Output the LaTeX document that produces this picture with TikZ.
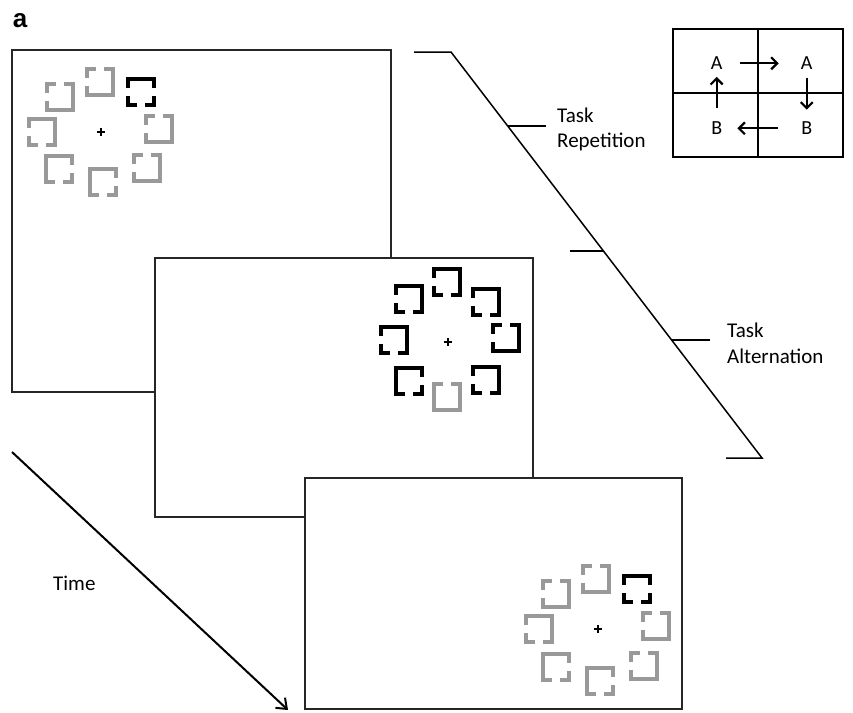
\documentclass[tikz,border=0pt]{standalone}
\usepackage{fontspec}
\setmainfont{Carlito}
\newfontfamily\panelfont{Liberation Sans}
\usetikzlibrary{arrows.meta,calc}

\definecolor{stimgray}{gray}{0.6}
\definecolor{edgegray}{gray}{0.15}

\tikzset{
  panelline/.style={draw=edgegray, line width=1.4},
  stimblack/.style={color=black, line width=3.4},
  stimgrey/.style={color=stimgray, line width=3.4},
  fixcross/.style={draw=black, line width=1.6},
  cue/.style={font=\fontsize{21}{25}\selectfont, anchor=base west, inner sep=0},
  cell/.style={font=\fontsize{20}{24}\selectfont, inner sep=0},
  gridline/.style={draw=black, line width=2},
  gridarrow/.style={draw=black, line width=2.2, -{Straight Barb[length=6,width=12,line width=2.2]}},
  bracket/.style={draw=black, line width=1.5},
}

% one side of a stimulus square, optionally broken in the middle
\newcommand\gapside[3]{%
  \ifnum#3=1
    \draw (#1) -- ($(#1)!0.28!(#2)$) ($(#1)!0.72!(#2)$) -- (#2);
  \else
    \draw (#1) -- (#2);
  \fi}
% square stimulus: centre x, centre y, style, gaps on top/right/bottom/left
\newcommand\stimsq[7]{%
  \begin{scope}[shift={(#1,#2)}, #3, line cap=rect]
    \gapside{-13,-13}{13,-13}{#4}
    \gapside{13,-13}{13,13}{#5}
    \gapside{13,13}{-13,13}{#6}
    \gapside{-13,13}{-13,-13}{#7}
  \end{scope}}
\newcommand\fixation[2]{%
  \draw[fixcross] (#1-4,#2) -- (#1+4,#2) (#1,#2-4) -- (#1,#2+4);}

\begin{document}
\begin{tikzpicture}[x=1pt, y=-1pt]
\useasboundingbox (0,0) rectangle (853,712);

\node[font=\panelfont\bfseries\fontsize{26}{30}\selectfont, inner sep=0] (panel) at (20,21) {a};

% stacked displays
\draw[panelline] (155,392) -- (12,392) -- (12,50) -- (391,50) -- (391,258);
\draw[panelline] (305,517) -- (155,517) -- (155,258) -- (533,258) -- (533,478);
\draw[panelline] (305,478) rectangle (682,709);

% first display
\fixation{101}{132}
\stimsq{100}{82}{stimgrey}{1}{0}{0}{1}
\stimsq{141}{92}{stimblack}{0}{1}{1}{1}
\stimsq{159}{129}{stimgrey}{1}{0}{0}{1}
\stimsq{147}{168}{stimgrey}{1}{0}{0}{1}
\stimsq{103}{182}{stimgrey}{0}{1}{1}{0}
\stimsq{59}{169}{stimgrey}{0}{1}{1}{0}
\stimsq{42}{132}{stimgrey}{0}{0}{1}{1}
\stimsq{60}{97}{stimgrey}{1}{0}{0}{1}

% second display
\fixation{448}{342}
\stimsq{447}{282}{stimblack}{0}{0}{1}{1}
\stimsq{409}{299}{stimblack}{0}{0}{1}{1}
\stimsq{486}{302}{stimblack}{0}{0}{1}{1}
\stimsq{506}{338}{stimblack}{1}{0}{0}{1}
\stimsq{486}{380}{stimblack}{0}{0}{1}{1}
\stimsq{447}{397}{stimgrey}{1}{0}{0}{0}
\stimsq{409}{381}{stimblack}{0}{1}{1}{0}
\stimsq{394}{340}{stimblack}{0}{0}{1}{1}

% third display
\fixation{598}{629}
\stimsq{596}{579}{stimgrey}{1}{0}{0}{1}
\stimsq{637}{589}{stimblack}{0}{1}{1}{1}
\stimsq{656}{626}{stimgrey}{1}{0}{0}{1}
\stimsq{644}{666}{stimgrey}{1}{0}{0}{1}
\stimsq{600}{681}{stimgrey}{0}{1}{1}{0}
\stimsq{556}{667}{stimgrey}{0}{1}{1}{0}
\stimsq{539}{629}{stimgrey}{0}{0}{1}{1}
\stimsq{556}{594}{stimgrey}{1}{0}{0}{1}

% time axis
\coordinate (tstart) at (12,452);
\coordinate (tend) at (288,710);
\draw[line width=2, -{Straight Barb[length=9,width=14]}] (tstart) -- (tend);
\node[cue] (time) at (53,590) {Time};

% transition bracket
\coordinate (btop) at (451,52);
\coordinate (bbot) at (762,458);
\draw[bracket] (414,52) -- (btop) -- (bbot) -- (726,458);
\coordinate (rep) at ($(btop)!0.1823!(bbot)$);
\coordinate (mid) at ($(btop)!0.490!(bbot)$);
\coordinate (alt) at ($(btop)!0.709!(bbot)$);
\draw[bracket] (rep) -- ++(38,0);
\draw[bracket] (mid) -- ++(-33,0);
\draw[bracket] (alt) -- ++(38,0);
\node[cue] (rep1) at (557,122) {Task};
\node[cue] (rep2) at (557,147) {Repetition};
\node[cue] (alt1) at (727,337) {Task};
\node[cue] (alt2) at (727,363) {Alternation};

% task sequence grid
\draw[gridline] (672.7,29) rectangle (843.3,156.7);
\draw[gridline] (758.3,29) -- (758.3,156.7);
\draw[gridline] (672.7,93.3) -- (843.3,93.3);
\node[cell] (a1) at (716.7,63.3) {A};
\node[cell] (a2) at (806.7,63.3) {A};
\node[cell] (b1) at (716.7,128.3) {B};
\node[cell] (b2) at (806.7,128.3) {B};
\draw[gridarrow, shorten <=17, shorten >=22] (a1.east) -- (a2.west);
\draw[gridarrow, shorten <=8, shorten >=12] (a2.south) -- (b2.north);
\draw[gridarrow, shorten <=23, shorten >=15] (b2.west) -- (b1.east);
\draw[gridarrow, shorten <=14, shorten >=7] (b1.north) -- (a1.south);
\end{tikzpicture}
\end{document}
